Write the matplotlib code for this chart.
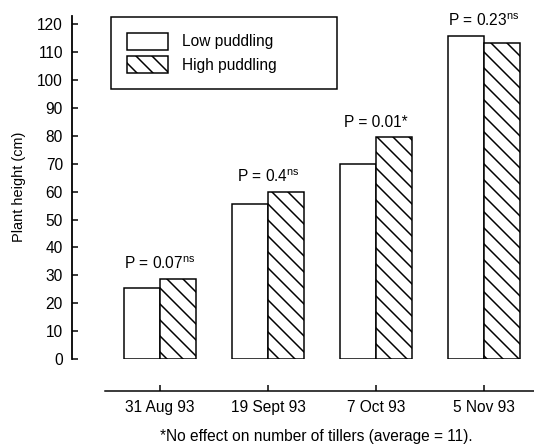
import matplotlib
matplotlib.use("Agg")
import matplotlib.pyplot as plt
import numpy as np

DPI = 96
W, H = 534, 446


def px(v):
    """Convert a size in pixels to points for this figure's dpi."""
    return v * 72 / DPI


plt.rcParams['font.family'] = ['Liberation Sans', 'DejaVu Sans']
plt.rcParams['mathtext.fontset'] = 'custom'
plt.rcParams['mathtext.rm'] = 'Liberation Sans'
plt.rcParams['mathtext.it'] = 'Liberation Sans'
plt.rcParams['hatch.linewidth'] = px(1.5)
plt.rcParams['hatch.color'] = 'black'

dates = ['31 Aug 93', '19 Sept 93', '7 Oct 93', '5 Nov 93']
low_puddling = [25.5, 55.5, 70.0, 116.0]
high_puddling = [28.7, 60.0, 79.7, 113.3]
p_values = ['0.07', '0.4', '0.01', '0.23']
p_marks = ['ns', 'ns', '*', 'ns']
y_ticks = list(range(0, 121, 10))

fig = plt.figure(figsize=(W / DPI, H / DPI), dpi=DPI)
ax = fig.add_axes([72 / W, (H - 359) / H, 462 / W, 343 / H])

x = np.arange(len(dates))
bw = 1 / 3
ax.bar(x - bw / 2, low_puddling, width=bw, facecolor='white', edgecolor='black',
       linewidth=px(1.5), label='Low puddling')
ax.bar(x + bw / 2, high_puddling, width=bw, facecolor='white', edgecolor='black',
       linewidth=px(1.5), hatch='\\\\', label='High puddling')

fs = px(15.5)
for xi, lo, hi, p, m in zip(x, low_puddling, high_puddling, p_values, p_marks):
    if m == '*':
        s = f'P = {p}*'
    else:
        s = f'P = {p}' + r'$^{\mathrm{' + m + '}}$'
    ax.annotate(s, (xi, max(lo, hi)), xytext=(0, px(10)), textcoords='offset points',
                ha='center', va='baseline', fontsize=fs)

ax.set_xlim(-0.815, 3.463)
ax.set_ylim(0, 123)

ax.spines['top'].set_visible(False)
ax.spines['right'].set_visible(False)
ax.spines['left'].set_linewidth(px(1.8))
ax.spines['left'].set_bounds(0, 123)
ax.spines['bottom'].set_position(('outward', px(32)))
ax.spines['bottom'].set_bounds(-0.51, 3.463)
ax.spines['bottom'].set_linewidth(px(1.5))

ax.set_yticks(y_ticks)
ax.set_xticks(x)
ax.set_xticklabels(dates)
ax.tick_params(axis='both', direction='in', length=px(6), width=px(1.5),
               pad=px(9), labelsize=fs)

fig.text(19 / W, 1 - 187 / H, 'Plant height (cm)', rotation=90, ha='center',
         va='center', fontsize=px(14.5))
fig.text(316 / W, 1 - 437 / H, '*No effect on number of tillers (average = 11).',
         ha='center', va='center', fontsize=fs)

leg = ax.legend(loc='upper left', mode='expand',
                bbox_to_anchor=(111 / W, 1 - 17 / H, 226 / W, 0),
                bbox_transform=fig.transFigure, borderaxespad=0,
                fontsize=fs, handlelength=2.65, handleheight=1.35,
                handletextpad=0.9, labelspacing=0.4, borderpad=1.0,
                fancybox=False, edgecolor='black', framealpha=1)
leg.get_frame().set_linewidth(px(1.5))

fig.savefig('out.png', dpi=DPI)
